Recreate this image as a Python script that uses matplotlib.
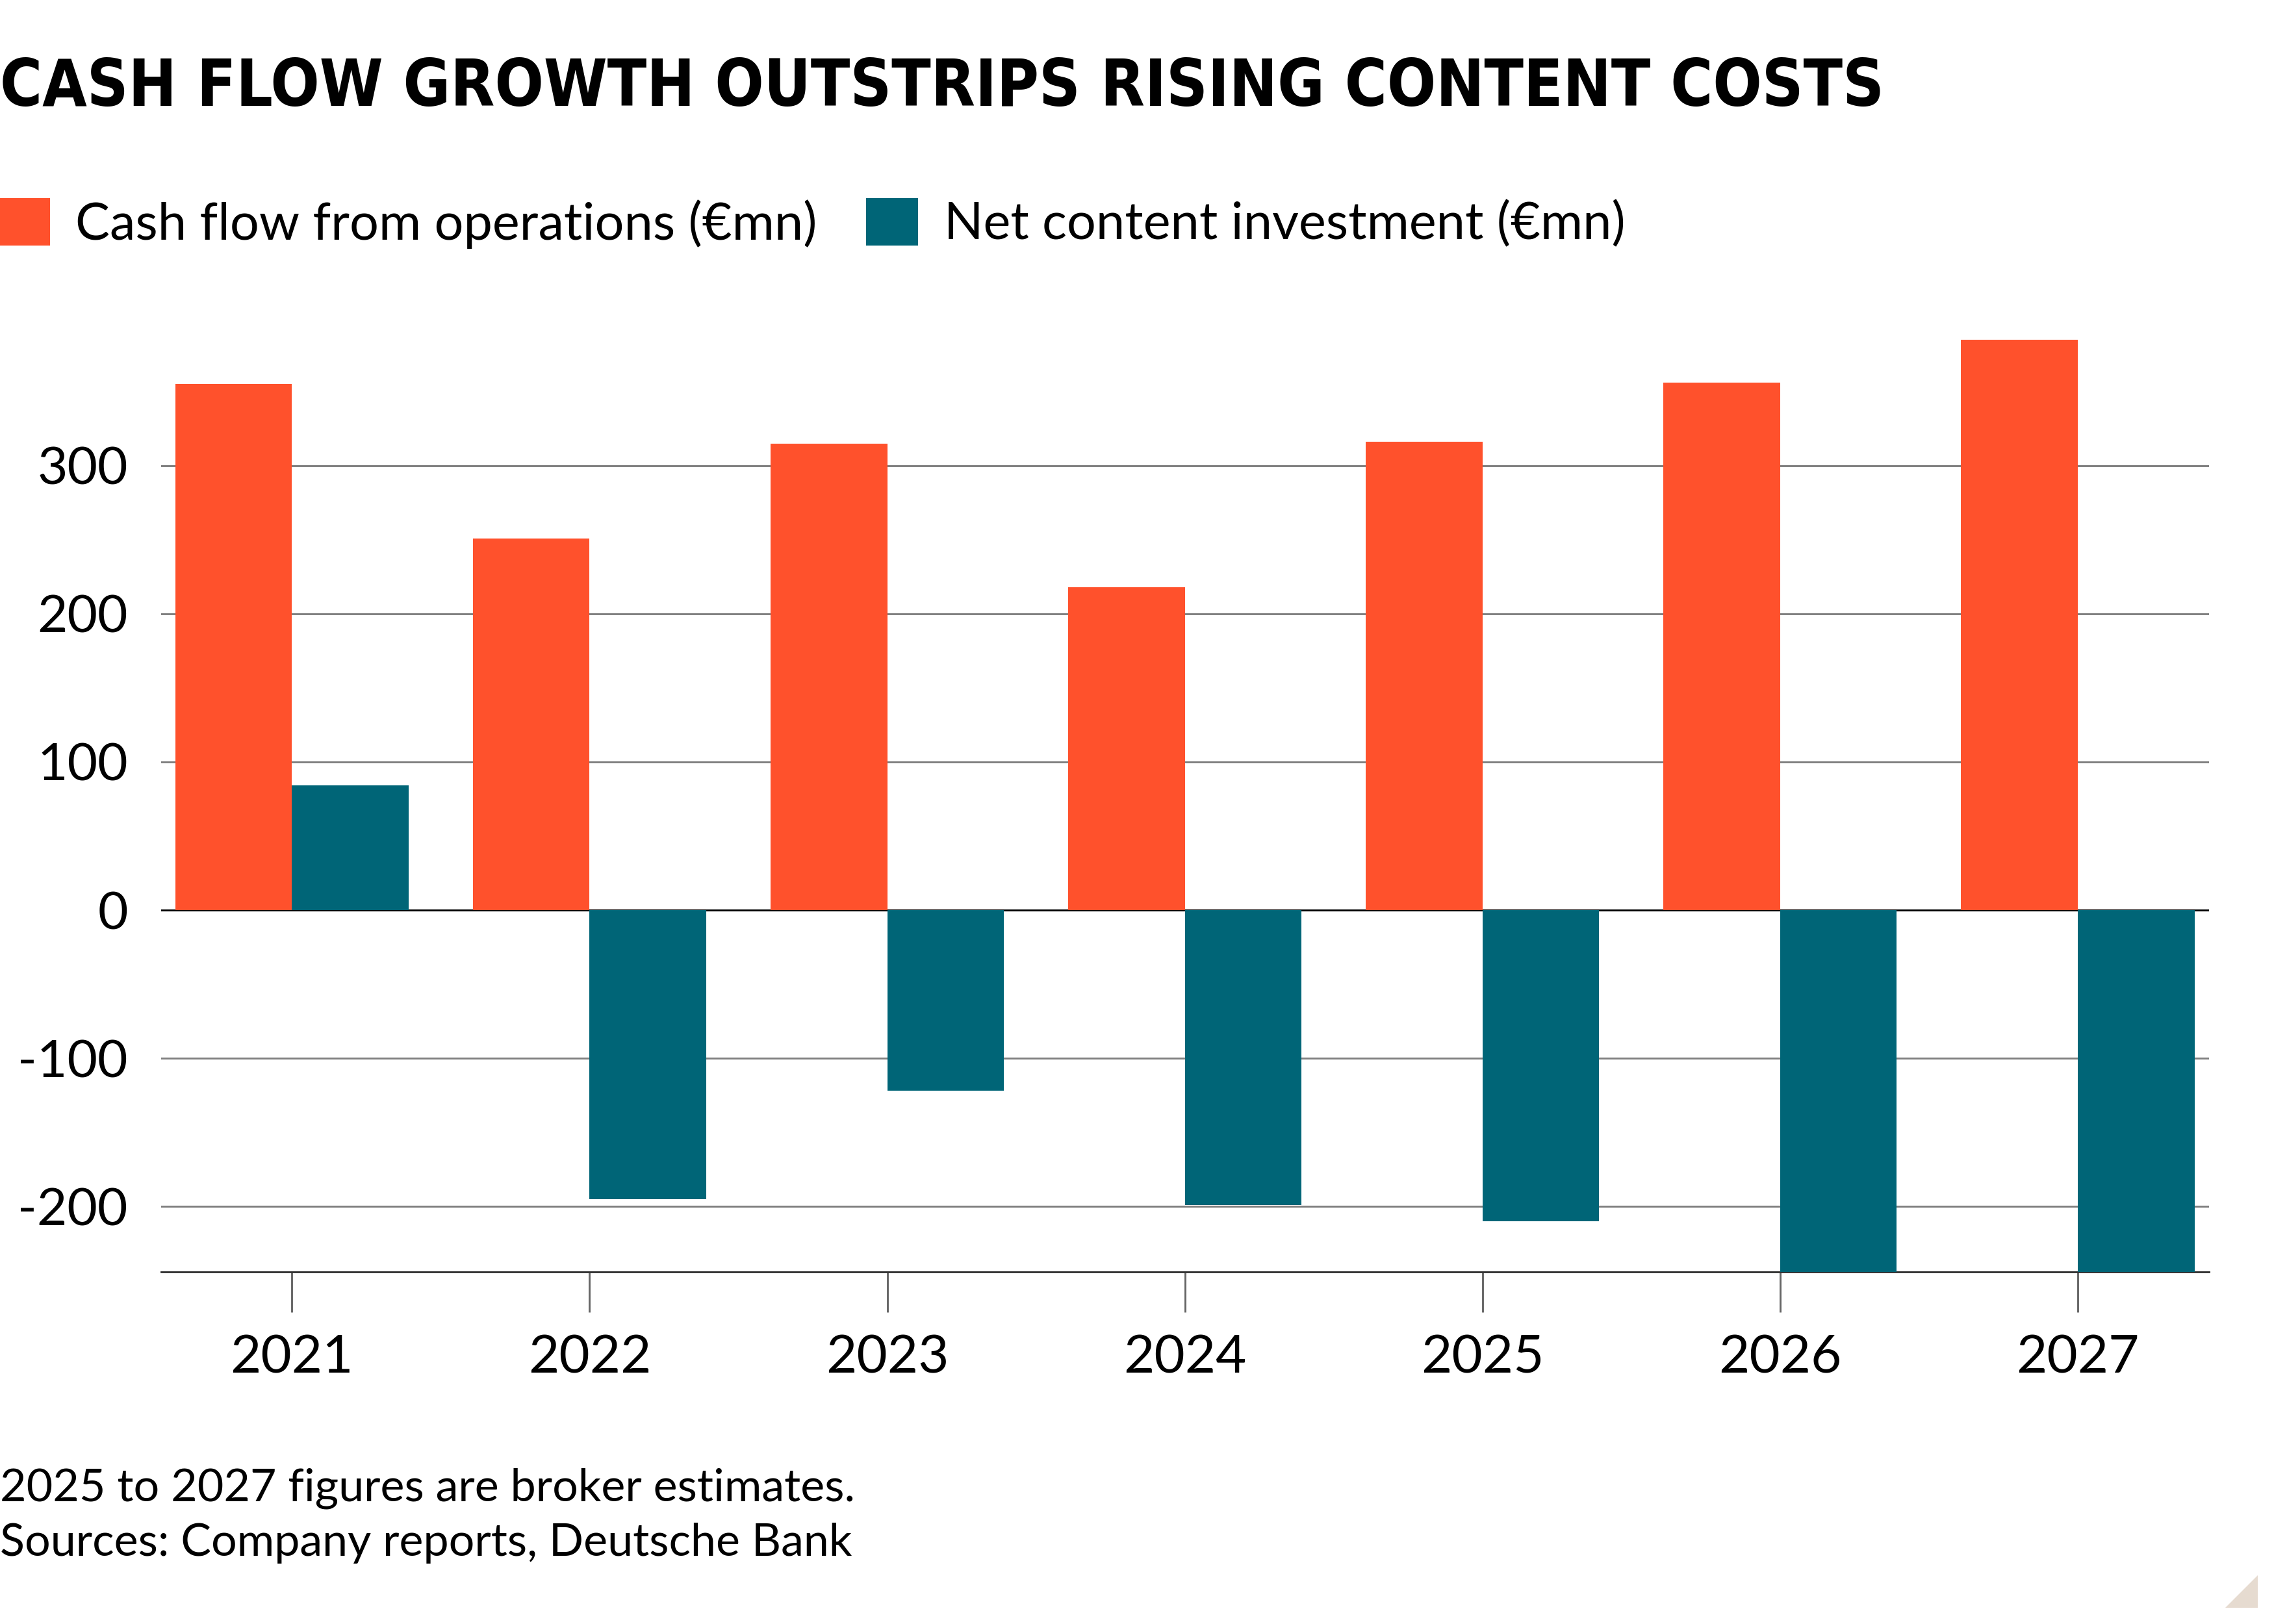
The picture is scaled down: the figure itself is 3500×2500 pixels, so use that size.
import matplotlib
matplotlib.use("Agg")
import numpy as np
import matplotlib.pyplot as plt
from matplotlib.patches import Polygon

years = ["2021", "2022", "2023", "2024", "2025", "2026", "2027"]
cash_flow = [355, 251, 315, 218, 316, 356, 385]
net_content = [84, -195, -122, -199, -210, -244, -244]
yticks = [-200, -100, 0, 100, 200, 300]

orange = "#ff512c"
teal = "#006577"

plt.rcParams["font.family"] = ["Lato", "DejaVu Sans"]
plt.rcParams["axes.unicode_minus"] = False

fig = plt.figure(figsize=(10, 2500 / 350), dpi=350)
ax = fig.add_axes([0.0708, 0.217, 0.9005, 0.5875])

x = np.arange(len(years))
w = 0.392
b1 = ax.bar(x - w / 2, cash_flow, w, color=orange, label="Cash flow from operations (€mn)", zorder=3)
b2 = ax.bar(x + w / 2, net_content, w, color=teal, label="Net content investment (€mn)", zorder=3)

ax.set_xlim(-0.44, 6.44)
ax.set_ylim(-244, 400)
ax.set_yticks(yticks)
ax.set_yticklabels([str(v) for v in yticks])
ax.set_xticks(x)
ax.set_xticklabels(years)

for v in yticks:
    ax.axhline(v, color="black" if v == 0 else "#7f7f7f", lw=0.6, zorder=1)

for s in ["top", "right", "left"]:
    ax.spines[s].set_visible(False)
ax.spines["bottom"].set_color("#333333")
ax.spines["bottom"].set_linewidth(0.6)

ax.tick_params(axis="y", length=0, pad=10.5, labelsize=16.5)
ax.tick_params(axis="x", length=12.8, width=0.6, color="#666666", pad=7, labelsize=16.8)

fig.text(0.0, 0.9348, "CASH FLOW GROWTH OUTSTRIPS RISING CONTENT COSTS",
         fontsize=20.3, fontweight="bold", fontstretch="condensed", va="baseline", ha="left",
         family=["DejaVu Sans"])

fig.legend(handles=[b1, b2], loc="upper left", bbox_to_anchor=(-0.001, 0.878),
           ncol=2, frameon=False, fontsize=16.3, handlelength=1.01, handleheight=1.05,
           handletextpad=0.5, columnspacing=0.95, borderaxespad=0, borderpad=0)

fig.text(0.0, 0.0759, "2025 to 2027 figures are broker estimates.", fontsize=14.4, va="baseline")
fig.text(0.0, 0.042, "Sources: Company reports, Deutsche Bank", fontsize=14.4, va="baseline")

tri = Polygon([[0.9786, 0.01], [0.9929, 0.01], [0.9929, 0.03]], closed=True,
              transform=fig.transFigure, color="#e6dbd0", lw=0)
fig.patches.append(tri)

fig.savefig("out.png", dpi=350, facecolor="white")
